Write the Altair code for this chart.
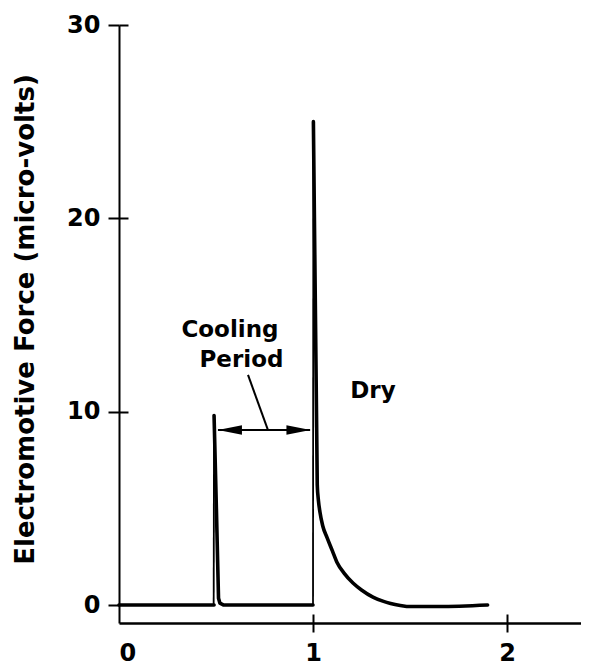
import altair as alt
import pandas as pd

# ---------------- data ----------------
# thick trace segments (x in arbitrary time units, y in micro-volts)
seg_a_x = [0.0, 0.49]
seg_a_y = [0.0, 0.0]
seg_b_x = [0.49, 0.502, 0.513, 0.52, 0.54, 1.0]
seg_b_y = [9.8, 5.0, 0.35, 0.1, 0.0, 0.0]
# the "Dry" spike and its decay
seg_c_x = [1.002, 1.022, 1.028, 1.036, 1.05, 1.072, 1.10, 1.124, 1.16, 1.206, 1.25, 1.309, 1.36, 1.40, 1.45, 1.50, 1.65, 1.90]
seg_c_y = [25.0, 6.2, 5.4, 4.8, 4.1, 3.5, 2.8, 2.2, 1.65, 1.14, 0.78, 0.41, 0.2, 0.08, -0.02, -0.08, -0.08, 0.0]
# thin rising strokes
rise1_x = [0.488, 0.49]
rise1_y = [0.0, 9.8]
rise2_x = [1.0, 1.002]
rise2_y = [0.0, 25.0]

y_ticks = [0, 10, 20, 30]
x_ticks = [0, 1, 2]

# annotation data
arrow_y = 9.05
arrow_x1, arrow_x2 = 0.51, 0.985
head_left_x, head_right_x = 0.572, 0.925
leader_x1, leader_y1, leader_x2, leader_y2 = 0.665, 11.9, 0.768, 9.05
label_text = ["Cooling", "Period", "Dry"]
label_x = [0.572, 0.631, 1.309]
label_y = [13.86, 12.31, 10.71]

# ---------------- tables ----------------
def seg_df(xs, ys, name):
    return pd.DataFrame({"x": xs, "y": ys, "seg": name, "i": range(len(xs))})

thick = pd.concat([seg_df(seg_a_x, seg_a_y, "a"),
                   seg_df(seg_b_x, seg_b_y, "b")], ignore_index=True)
decay = seg_df(seg_c_x, seg_c_y, "c")
thin = pd.concat([seg_df(rise1_x, rise1_y, "r1"),
                  seg_df(rise2_x, rise2_y, "r2")], ignore_index=True)
arrow_df = pd.DataFrame({"x": [arrow_x1], "x2": [arrow_x2], "y": [arrow_y]})
headL = pd.DataFrame({"x": [head_left_x], "y": [arrow_y]})
headR = pd.DataFrame({"x": [head_right_x], "y": [arrow_y]})
leader_df = pd.DataFrame({"x": [leader_x1], "y": [leader_y1], "x2": [leader_x2], "y2": [leader_y2]})
text_df = pd.DataFrame({"t": label_text, "x": label_x, "y": label_y})

W, H = 462, 598
FONT = "DejaVu Sans"
xs = alt.Scale(domain=[0, W / 194.0], nice=False, zero=False)
ys = alt.Scale(domain=[-0.93, 30], nice=False, zero=False)

x_main = alt.Axis(values=x_ticks, tickSize=9, tickWidth=2, domainWidth=2.5,
                  domainColor="black", labelColor="black",
                  tickColor={"condition": {"test": "datum.value === 0", "value": "transparent"},
                             "value": "black"},
                  labelFont=FONT, labelFontSize=24, labelFontWeight="bold",
                  labelPadding=9, grid=False, title=None)
y_main = alt.Axis(values=y_ticks, tickSize=11, tickWidth=2, domainWidth=2,
                  domainColor="black", tickColor="black", labelColor="black",
                  labelFont=FONT, labelFontSize=24, labelFontWeight="bold",
                  labelPadding=8, grid=False,
                  title="Electromotive Force (micro-volts)",
                  titleFont=FONT, titleFontSize=26, titleFontWeight="bold",
                  titleColor="black", titleX=-86, titleY=294,
                  titleBaseline="alphabetic")

x_sec = alt.Axis(orient="top", offset=-H, values=[1, 2], tickSize=9, tickWidth=2,
                 tickColor="black", domain=False, labels=False, grid=False, title=None)
y_sec = alt.Axis(orient="right", offset=-W, values=[10, 20, 30], tickSize=9, tickWidth=2,
                 tickColor="black", domain=False, labels=False, grid=False, title=None)

thick_layer = alt.Chart(thick).mark_line(color="black", strokeWidth=3.6,
                                          strokeJoin="round", strokeCap="round").encode(
    x=alt.X("x:Q", scale=xs, axis=x_main),
    y=alt.Y("y:Q", scale=ys, axis=y_main),
    detail="seg:N",
    order="i:Q",
)

decay_layer = alt.Chart(decay).mark_line(color="black", strokeWidth=3.6, interpolate="monotone",
                                          strokeJoin="round", strokeCap="round").encode(
    x=alt.X("x:Q", scale=xs, axis=None),
    y=alt.Y("y:Q", scale=ys, axis=None),
    order="i:Q",
)

thin_layer = alt.Chart(thin).mark_line(color="black", strokeWidth=1.8).encode(
    x=alt.X("x:Q", scale=xs, axis=x_sec),
    y=alt.Y("y:Q", scale=ys, axis=y_sec),
    detail="seg:N",
    order="i:Q",
)

arrow_layer = alt.Chart(arrow_df).mark_rule(color="black", strokeWidth=2).encode(
    x=alt.X("x:Q", scale=xs, axis=None), x2="x2:Q",
    y=alt.Y("y:Q", scale=ys, axis=None),
)
left_head = alt.Chart(headL).mark_point(shape="M -1 0 L 1 -0.4 L 1 0.4 Z", size=576,
                                        filled=True, color="black", opacity=1).encode(
    x=alt.X("x:Q", scale=xs, axis=None),
    y=alt.Y("y:Q", scale=ys, axis=None),
)
right_head = alt.Chart(headR).mark_point(shape="M 1 0 L -1 -0.4 L -1 0.4 Z", size=576,
                                         filled=True, color="black", opacity=1).encode(
    x=alt.X("x:Q", scale=xs, axis=None),
    y=alt.Y("y:Q", scale=ys, axis=None),
)
leader_layer = alt.Chart(leader_df).mark_rule(color="black", strokeWidth=2).encode(
    x=alt.X("x:Q", scale=xs, axis=None), x2="x2:Q",
    y=alt.Y("y:Q", scale=ys, axis=None), y2="y2:Q",
)
text_layer = alt.Chart(text_df).mark_text(font=FONT, fontSize=23, fontWeight="bold",
                                          align="center", baseline="alphabetic",
                                          color="black").encode(
    x=alt.X("x:Q", scale=xs, axis=None),
    y=alt.Y("y:Q", scale=ys, axis=None),
    text="t:N",
)

chart = alt.layer(thick_layer, decay_layer, thin_layer, arrow_layer, left_head, right_head,
                  leader_layer, text_layer).resolve_axis(
    x="independent", y="independent"
).properties(
    width=W, height=H,
    autosize=alt.AutoSizeParams(type="none"),
    padding={"left": 111, "top": 17, "right": 0, "bottom": 42},
    background="white",
).configure_view(stroke=None)

chart.save("out.html", embed_options={"renderer": "svg", "actions": False})
